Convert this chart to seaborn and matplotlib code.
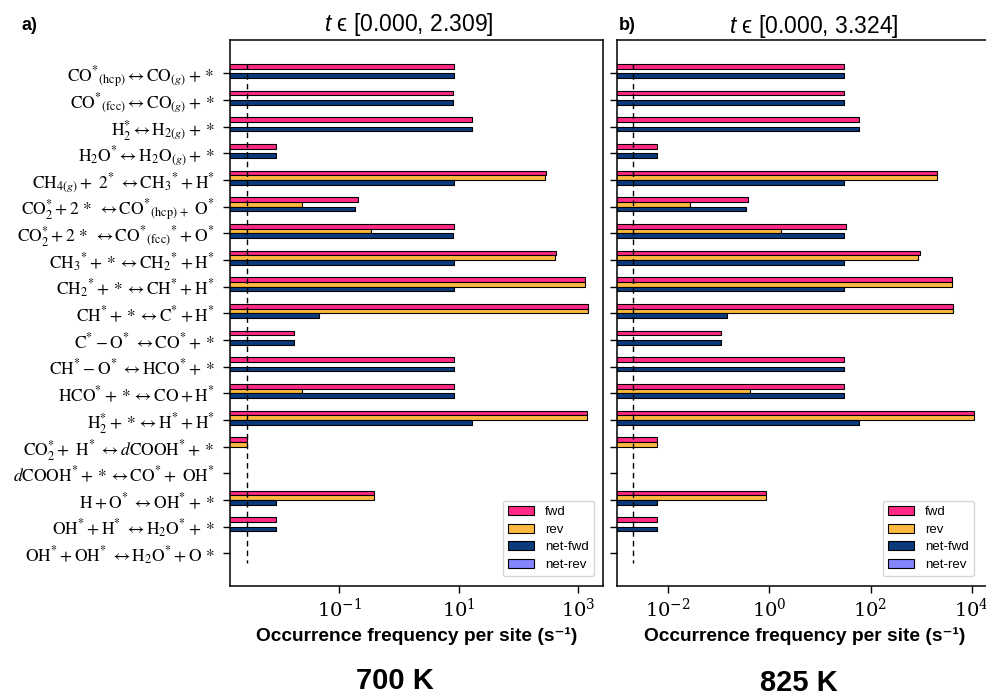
import numpy as np
import pandas as pd
import matplotlib
matplotlib.use("Agg")
import matplotlib.pyplot as plt
from matplotlib.patches import Patch
from matplotlib.ticker import FixedLocator, FuncFormatter, NullLocator
import seaborn as sns

nan = np.nan

# Elementary steps of the kinetic Monte Carlo mechanism (top to bottom)
reactions = [
    r"$\mathrm{CO}^{*}{}_{(\mathrm{hcp})} \leftrightarrow \mathrm{CO}_{(g)} + *$",
    r"$\mathrm{CO}^{*}{}_{(\mathrm{fcc})} \leftrightarrow \mathrm{CO}_{(g)} + *$",
    r"$\mathrm{H}_2^{*} \leftrightarrow \mathrm{H}_{2(g)} + *$",
    r"$\mathrm{H_2O}^{*} \leftrightarrow \mathrm{H_2O}_{(g)} + *$",
    r"$\mathrm{CH}_{4(g)} +\ 2^{*}\ \leftrightarrow \mathrm{CH_3}^{*} + \mathrm{H}^{*}$",
    r"$\mathrm{CO}_2^{*} + 2\,*\ \leftrightarrow \mathrm{CO}^{*}{}_{(\mathrm{hcp})\,+}\ \mathrm{O}^{*}$",
    r"$\mathrm{CO}_2^{*} + 2\,*\ \leftrightarrow \mathrm{CO}^{*}{}_{(\mathrm{fcc})}{}^{*} + \mathrm{O}^{*}$",
    r"$\mathrm{CH_3}^{*} + * \leftrightarrow \mathrm{CH_2}^{*} + \mathrm{H}^{*}$",
    r"$\mathrm{CH_2}^{*} + * \leftrightarrow \mathrm{CH}^{*} + \mathrm{H}^{*}$",
    r"$\mathrm{CH}^{*} + * \leftrightarrow \mathrm{C}^{*} + \mathrm{H}^{*}$",
    r"$\mathrm{C}^{*} - \mathrm{O}^{*}\ \leftrightarrow \mathrm{CO}^{*} + *$",
    r"$\mathrm{CH}^{*} - \mathrm{O}^{*}\ \leftrightarrow \mathrm{HCO}^{*} + *$",
    r"$\mathrm{HCO}^{*} + * \leftrightarrow \mathrm{CO} + \mathrm{H}^{*}$",
    r"$\mathrm{H}_2^{*} + * \leftrightarrow \mathrm{H}^{*} + \mathrm{H}^{*}$",
    r"$\mathrm{CO}_2^{*} +\ \mathrm{H}^{*}\ \leftrightarrow d\mathrm{COOH}^{*} + *$",
    r"$d\mathrm{COOH}^{*} + * \leftrightarrow \mathrm{CO}^{*} +\ \mathrm{OH}^{*}$",
    r"$\mathrm{H} + \mathrm{O}^{*}\ \leftrightarrow \mathrm{OH}^{*} + *$",
    r"$\mathrm{OH}^{*} + \mathrm{H}^{*}\ \leftrightarrow \mathrm{H_2O}^{*} + *$",
    r"$\mathrm{OH}^{*} + \mathrm{OH}^{*}\ \leftrightarrow \mathrm{H_2O}^{*} + \mathrm{O}\,*$",
]

kinds = ["fwd", "rev", "net-fwd", "net-rev"]

# Occurrence frequencies per site (1/s), 700 K
fwd_700 = [8.4, 7.9, 16.4, 0.0087, 285, 0.205, 8.4, 420, 1280, 1420,
           0.0175, 8.4, 8.4, 1380, 0.0029, nan, 0.385, 0.0087, nan]
rev_700 = [nan, nan, nan, nan, 277, 0.024, 0.34, 412, 1272, 1420,
           nan, nan, 0.0235, 1364, 0.0029, nan, 0.376, nan, nan]
netfwd_700 = [8.4, 7.9, 16.4, 0.0087, 8.4, 0.18, 7.9, 8.4, 8.4, 0.046,
              0.0175, 8.4, 8.4, 16.4, nan, nan, 0.0087, 0.0087, nan]

# Occurrence frequencies per site (1/s), 825 K
fwd_825 = [30.2, 30.2, 59.8, 0.006, 2090, 0.38, 32.2, 960, 4130, 4320,
           0.11, 30.2, 30.2, 11100, 0.006, nan, 0.855, 0.006, nan]
rev_825 = [nan, nan, nan, nan, 2060, 0.027, 1.67, 880, 4100, 4320,
           nan, nan, 0.41, 11040, 0.006, nan, 0.849, nan, nan]
netfwd_825 = [30.2, 30.2, 59.8, 0.006, 30.2, 0.34, 30.2, 30.2, 30.2, 0.145,
              0.11, 30.2, 30.2, 59.8, nan, nan, 0.006, 0.006, nan]

# Frequency of a single event per site over the simulated window
threshold_700 = 0.0029
threshold_825 = 0.0020

panel_letters = ["a)", "b)"]
time_windows = ["[0.000, 2.309]", "[0.000, 3.324]"]
temperatures = ["700 K", "825 K"]
xticks_700 = [1e-1, 1e1, 1e3]
xticks_825 = [1e-2, 1e0, 1e2, 1e4]

colors = {"fwd": "#ff2a86", "rev": "#ffb940", "net-fwd": "#0a3a7c", "net-rev": "#8585ff"}


def long_frame(fwd, rev, net):
    rows = []
    for kind, vals in (("fwd", fwd), ("rev", rev), ("net-fwd", net)):
        for name, v in zip(reactions, vals):
            if not np.isnan(v):
                rows.append((name, kind, v))
    return pd.DataFrame(rows, columns=["reaction", "kind", "freq"])


sns.set_theme(style="ticks")
plt.rcParams.update({
    "font.family": ["Liberation Sans", "DejaVu Sans"],
    "mathtext.fontset": "custom",
    "mathtext.rm": "STIXGeneral",
    "mathtext.it": "STIXGeneral:italic",
    "mathtext.bf": "STIXGeneral:bold",
    "mathtext.sf": "Liberation Sans:italic",
    "mathtext.fallback": "stix",
    "axes.edgecolor": "black",
    "axes.linewidth": 1.1,
    "axes.labelcolor": "black",
    "text.color": "black",
    "xtick.color": "black",
    "ytick.color": "black",
    "xtick.labelcolor": "black",
    "ytick.labelcolor": "black",
})

W, H = 987, 696
fig = plt.figure(figsize=(W / 100, H / 100), dpi=100)
ax_a = fig.add_axes([230 / W, 110 / H, 373 / W, 546 / H])
ax_b = fig.add_axes([617 / W, 110 / H, 375 / W, 546 / H])

panels = [
    (ax_a, long_frame(fwd_700, rev_700, netfwd_700), threshold_700, xticks_700,
     (10 ** -2.83, 10 ** 3.41), 0.976),
    (ax_b, long_frame(fwd_825, rev_825, netfwd_825), threshold_825, xticks_825,
     (10 ** -3.01, 10 ** 4.40), 0.952),
]

for i, (ax, df, thr, ticks, xlim, leg_x) in enumerate(panels):
    sns.barplot(data=df, y="reaction", x="freq", hue="kind", order=reactions,
                hue_order=kinds, palette=colors, orient="y", width=0.7,
                saturation=1, edgecolor="black", linewidth=0.8, log_scale=True,
                errorbar=None, legend=False, ax=ax)
    # bars start at zero: clip non-positive values so they reach the left spine
    ax.set_xscale("log", nonpositive="clip")
    ax.vlines(thr, -0.35, len(reactions) - 1 + 0.35, colors="black",
              linestyles=(0, (4, 3)), linewidth=1.0, zorder=3)
    ax.set_xlim(*xlim)
    ax.set_ylim(len(reactions) - 1 + 1.23, -1.25)
    ax.xaxis.set_major_locator(FixedLocator(ticks))
    ax.xaxis.set_minor_locator(NullLocator())
    ax.xaxis.set_major_formatter(FuncFormatter(lambda v, p: r"$10^{%d}$" % round(np.log10(v))))
    ax.tick_params(axis="x", length=5, width=1, labelsize=14, pad=3)
    ax.tick_params(axis="y", length=5, width=1, labelsize=12.5, pad=6)
    for lbl in ax.get_xticklabels():
        lbl.set_math_fontfamily("dejavuserif")
    ax.set_ylabel("")
    ax.set_xlabel("Occurrence frequency per site (s⁻¹)", fontsize=13.8,
                  fontweight="bold", labelpad=5)
    for s in ax.spines.values():
        s.set_visible(True)
    handles = [Patch(facecolor=colors[k], edgecolor="black", linewidth=0.8, label=k)
               for k in kinds]
    ax.legend(handles=handles, loc="lower right", bbox_to_anchor=(leg_x, 0.018),
              borderaxespad=0, fontsize=9.5, labelspacing=0.4, handlelength=2.0,
              framealpha=0.8)

ax_b.tick_params(axis="y", labelleft=False)

# Panel letters and time windows
fig.text(22 / W, 1 - 25 / H, panel_letters[0], fontsize=13, fontweight="bold",
         ha="left", va="center")
fig.text(619 / W, 1 - 26 / H, panel_letters[1], fontsize=13, fontweight="bold",
         ha="left", va="center")
fig.text(409 / W, 1 - 25 / H, r"$\mathsf{t}$ ϵ " + time_windows[0], fontsize=16.5,
         ha="center", va="center")
fig.text(814 / W, 1 - 26 / H, r"$\mathsf{t}$ ϵ " + time_windows[1], fontsize=16.5,
         ha="center", va="center")

# Temperatures under each panel
fig.text(394.5 / W, 1 - 681 / H, temperatures[0], fontsize=21, fontweight="bold",
         ha="center", va="center")
fig.text(798.5 / W, 1 - 683 / H, temperatures[1], fontsize=21, fontweight="bold",
         ha="center", va="center")

fig.savefig("out.png", dpi=100)
